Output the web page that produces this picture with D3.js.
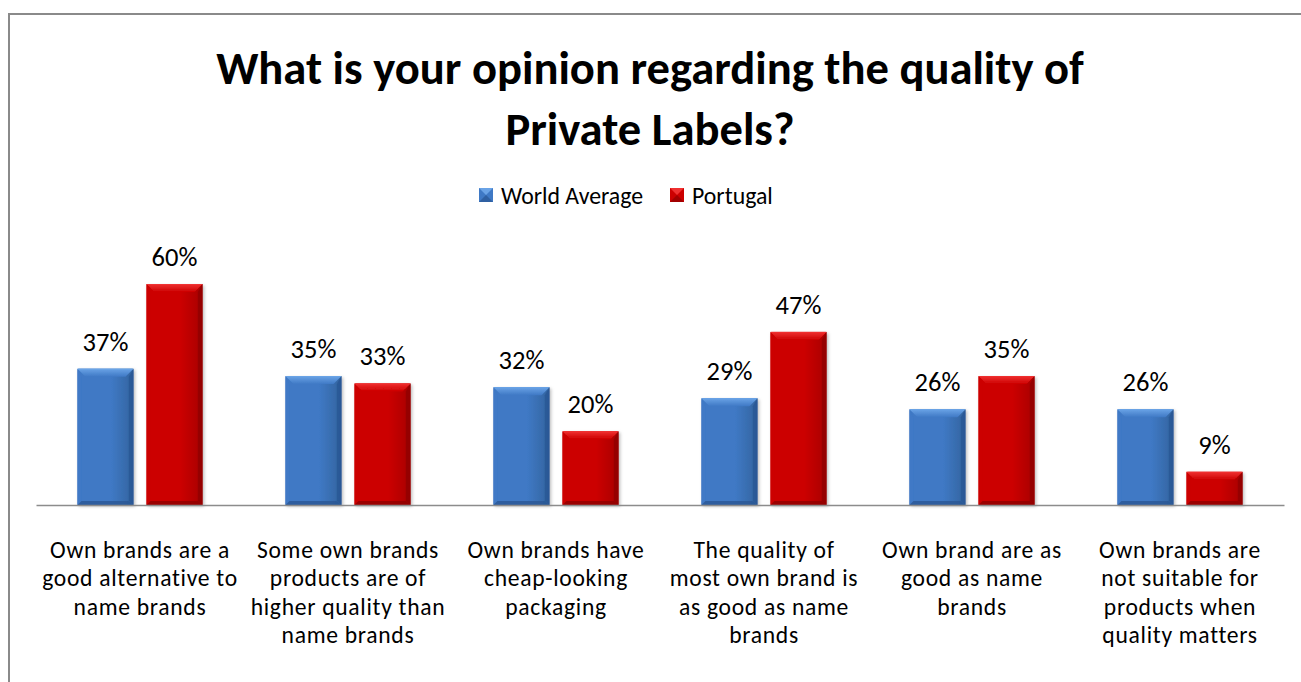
<!DOCTYPE html>
<html>
<head>
<meta charset="utf-8">
<script src="https://cdn.jsdelivr.net/npm/d3@7"></script>
<style>
  html, body { margin: 0; padding: 0; background: #ffffff; }
  svg { display: block; }
  text { font-family: Carlito, Calibri, Lato, "Open Sans", sans-serif; fill: #000; }
</style>
</head>
<body>
<svg id="chart" width="1301" height="682"></svg>
<script>
// Survey categories (multi-line axis labels)
const categories = [
  ["Own brands are a", "good alternative to", "name brands"],
  ["Some own brands", "products are of", "higher quality than", "name brands"],
  ["Own brands have", "cheap-looking", "packaging"],
  ["The quality of", "most own brand is", "as good as name", "brands"],
  ["Own brand are as", "good as name", "brands"],
  ["Own brands are", "not suitable for", "products when", "quality matters"]
];
const seriesNames = ["World Average", "Portugal"];
const worldAverage = [37, 35, 32, 29, 26, 26];
const portugal = [60, 33, 20, 47, 35, 9];

const palettes = [
  { body: "#3f79c5", light: "#6aa3e6", dark: "#2a5693", edge: "#33649f" },
  { body: "#cc0000", light: "#ef3030", dark: "#8e0000", edge: "#a80000" }
];

const svg = d3.select("#chart");
const W = 1301, H = 682;

// Chart area frame
svg.append("path")
  .attr("d", `M9,${H + 2} L9,14 L${W + 2},14`)
  .attr("fill", "none").attr("stroke", "#8a8a8a").attr("stroke-width", 2);

const margin = { left: 36, right: 17 };
const baseline = 505;

const x0 = d3.scaleBand()
  .domain(d3.range(categories.length))
  .range([margin.left, W - margin.right])
  .paddingInner(0).paddingOuter(0);

const x1 = d3.scaleBand()
  .domain(d3.range(seriesNames.length))
  .range([0, x0.bandwidth()])
  .paddingInner(0.188).paddingOuter(0.6);

const y = d3.scaleLinear().domain([0, 60]).range([baseline, baseline - 221]);

const defs = svg.append("defs");
palettes.forEach((p, i) => {
  const g = defs.append("linearGradient").attr("id", "body" + i)
    .attr("x1", "0").attr("x2", "1").attr("y1", "0").attr("y2", "0");
  g.append("stop").attr("offset", "0").attr("stop-color", p.body);
  g.append("stop").attr("offset", "0.6").attr("stop-color", p.body);
  g.append("stop").attr("offset", "1").attr("stop-color", p.edge);
  const t = defs.append("linearGradient").attr("id", "top" + i)
    .attr("x1", "0").attr("x2", "0").attr("y1", "0").attr("y2", "1");
  t.append("stop").attr("offset", "0").attr("stop-color", p.light);
  t.append("stop").attr("offset", "1").attr("stop-color", p.body);
});
const shadow = defs.append("filter").attr("id", "shadow")
  .attr("x", "-20%").attr("y", "-20%").attr("width", "140%").attr("height", "140%");
shadow.append("feDropShadow").attr("dx", 1.5).attr("dy", 1.5).attr("stdDeviation", 1.5)
  .attr("flood-color", "#000").attr("flood-opacity", 0.25);

// Beveled bar: body, then top / side / bottom facets
function drawBar(g, xPos, w, v, si) {
  const p = palettes[si];
  const top = y(v), bot = y(0), h = bot - top;
  const b = Math.min(8, h / 2);
  const bar = g.append("g").attr("filter", "url(#shadow)");
  bar.append("rect").attr("x", xPos).attr("y", top).attr("width", w).attr("height", h)
    .attr("fill", `url(#body${si})`);
  // top facet
  bar.append("polygon")
    .attr("points", [[xPos, top], [xPos + w, top], [xPos + w - b, top + b], [xPos + b, top + b]].join(" "))
    .attr("fill", `url(#top${si})`);
  // left facet
  bar.append("polygon")
    .attr("points", [[xPos, top], [xPos + b * 0.5, top + b], [xPos + b * 0.5, bot - b * 0.5], [xPos, bot]].join(" "))
    .attr("fill", p.body).attr("opacity", 0.9);
  // right facet
  bar.append("polygon")
    .attr("points", [[xPos + w, top], [xPos + w - b * 0.6, top + b], [xPos + w - b * 0.6, bot - b * 0.5], [xPos + w, bot]].join(" "))
    .attr("fill", p.dark).attr("opacity", 0.75);
  // bottom facet
  bar.append("polygon")
    .attr("points", [[xPos, bot], [xPos + b * 0.5, bot - b * 0.5], [xPos + w - b * 0.6, bot - b * 0.5], [xPos + w, bot]].join(" "))
    .attr("fill", p.dark).attr("opacity", 0.8);
  // highlight line on the top edge
  bar.append("line").attr("x1", xPos + 1).attr("x2", xPos + w - 1).attr("y1", top + 0.5).attr("y2", top + 0.5)
    .attr("stroke", p.light).attr("stroke-width", 1);
}

const series = [worldAverage, portugal];
const barsG = svg.append("g");
categories.forEach((c, ci) => {
  series.forEach((vals, si) => {
    const bx = x0(ci) + x1(si);
    drawBar(barsG, bx, x1.bandwidth(), vals[ci], si);
    svg.append("text")
      .attr("x", bx + x1.bandwidth() / 2)
      .attr("y", y(vals[ci]) - 18)
      .attr("text-anchor", "middle")
      .attr("font-size", 26.5)
      .text(vals[ci] + "%");
  });
});

// Category axis
const axis = svg.append("g").attr("transform", `translate(0,${baseline})`)
  .call(d3.axisBottom(x0).tickSize(0).tickFormat(""));
axis.select(".domain").attr("stroke", "#8c8c8c").attr("stroke-width", 1.5);

// Category labels, one text element per wrapped line
const labelSize = 23.6, labelStep = 28.4;
categories.forEach((lines, ci) => {
  lines.forEach((ln, li) => {
    svg.append("text")
      .attr("x", x0(ci) + x0.bandwidth() / 2)
      .attr("y", 558 + li * labelStep)
      .attr("text-anchor", "middle")
      .attr("font-size", labelSize)
      .attr("letter-spacing", 0.7)
      .text(ln);
  });
});

// Title
const title = svg.append("text").attr("text-anchor", "middle")
  .attr("font-size", 46.6).attr("font-weight", "bold");
title.append("tspan").attr("x", 650).attr("y", 84).text("What is your opinion regarding the quality of");
title.append("tspan").attr("x", 650).attr("y", 145).text("Private Labels?");

// Legend
const legendItems = [{ x: 479, name: seriesNames[0], si: 0 }, { x: 670, name: seriesNames[1], si: 1 }];
legendItems.forEach(it => {
  const lg = svg.append("g");
  drawLegendKey(lg, it.x, 188, 14, it.si);
  svg.append("text").attr("x", it.x + 22).attr("y", 204).attr("font-size", 23.8).text(it.name);
});
function drawLegendKey(g, xPos, yPos, s, si) {
  const p = palettes[si];
  g.append("rect").attr("x", xPos).attr("y", yPos).attr("width", s).attr("height", s).attr("fill", p.body);
  g.append("polygon").attr("points", [[xPos, yPos], [xPos + s, yPos], [xPos + s / 2, yPos + s / 2]].join(" "))
    .attr("fill", p.light);
  g.append("polygon").attr("points", [[xPos, yPos + s], [xPos + s, yPos + s], [xPos + s / 2, yPos + s / 2]].join(" "))
    .attr("fill", p.dark).attr("opacity", 0.7);
}
</script>
</body>
</html>
